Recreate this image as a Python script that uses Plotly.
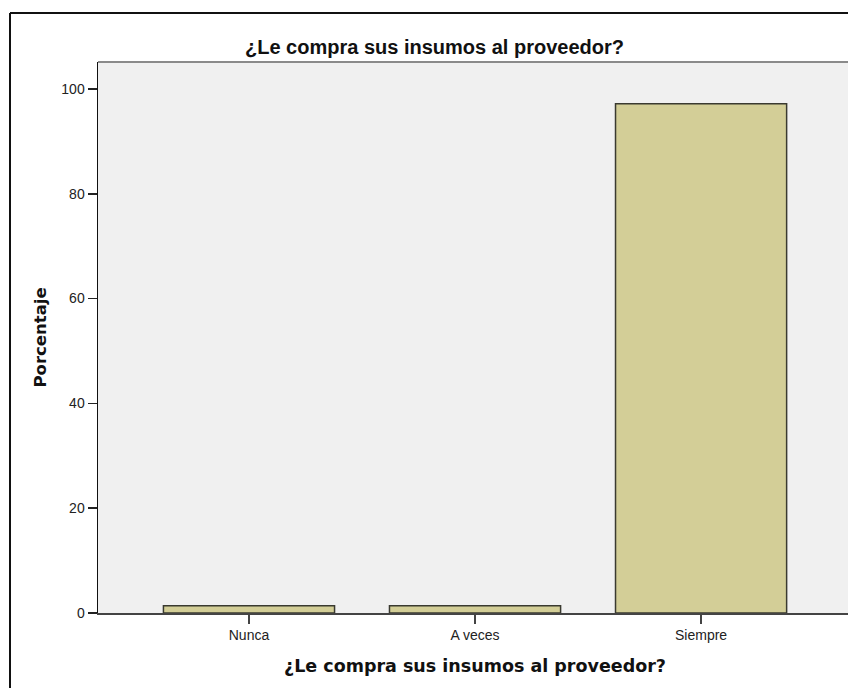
import plotly.graph_objects as go

categories = ["Nunca", "A veces", "Siempre"]
porcentaje = [1.4, 1.4, 97.2]
y_ticks = [0, 20, 40, 60, 80, 100]
title_text = "¿Le compra sus insumos al proveedor?"
y_title = "Porcentaje"

W, H = 848, 688
L, R, T, B = 98, 0, 62, 75
pw = W - L - R
ph = H - T - B


def px_x(px):
    return (px - L) / pw


def px_y(py):
    return (H - B - py) / ph


fig = go.Figure()
fig.add_trace(go.Bar(
    x=list(range(len(categories))),
    y=porcentaje,
    width=0.757,
    marker=dict(color="#d3ce97", line=dict(color="#3a3a30", width=1.5)),
    hoverinfo="skip",
))

fig.update_layout(
    width=W, height=H,
    margin=dict(l=L, r=R, t=T, b=B, pad=0),
    paper_bgcolor="white",
    plot_bgcolor="#f0f0f0",
    showlegend=False,
    xaxis=dict(
        range=[-0.668, 2.65],
        tickmode="array",
        tickvals=list(range(len(categories))),
        ticktext=categories,
        ticks="outside", ticklen=9, tickwidth=1.5, tickcolor="#444",
        showline=True, linecolor="#444", linewidth=1.5,
        showgrid=False, zeroline=False,
        tickfont=dict(family="Liberation Sans, Arial", size=14, color="#222"),
    ),
    yaxis=dict(
        range=[0, 105.15],
        tickmode="array",
        tickvals=y_ticks,
        ticks="outside", ticklen=9, tickwidth=1.5, tickcolor="#222",
        showline=True, linecolor="#111", linewidth=1.5,
        showgrid=False, zeroline=False,
        tickfont=dict(family="Liberation Sans, Arial", size=14, color="#222"),
    ),
    shapes=[
        dict(type="line", xref="paper", yref="paper", x0=0, x1=1.05, y0=1, y1=1,
             line=dict(color="#8a8a8a", width=2)),
        dict(type="line", xref="paper", yref="paper",
             x0=px_x(10), x1=px_x(10), y0=px_y(700), y1=px_y(13),
             line=dict(color="#111", width=2)),
        dict(type="line", xref="paper", yref="paper",
             x0=px_x(10), x1=1.05, y0=px_y(13), y1=px_y(13),
             line=dict(color="#111", width=2)),
    ],
    annotations=[
        dict(text="<b>" + title_text + "</b>", xref="paper", yref="paper",
             x=px_x(434), y=px_y(47), xanchor="center", yanchor="middle",
             showarrow=False,
             font=dict(family="Liberation Sans, Arial", size=20, color="#111")),
        dict(text="<b>" + title_text + "</b>", xref="paper", yref="paper",
             x=px_x(474.5), y=px_y(666), xanchor="center", yanchor="middle",
             showarrow=False,
             font=dict(family="DejaVu Sans", size=17.5, color="#111")),
        dict(text="<b>" + y_title + "</b>", xref="paper", yref="paper",
             x=px_x(40), y=0.5, xanchor="center", yanchor="middle",
             textangle=-90, showarrow=False,
             font=dict(family="DejaVu Sans", size=16.5, color="#111")),
    ],
)

fig.write_html(
    "out.html",
    config={"displayModeBar": False, "staticPlot": True},
    post_script="document.body.style.margin='0px';document.body.style.overflow='hidden';",
)
